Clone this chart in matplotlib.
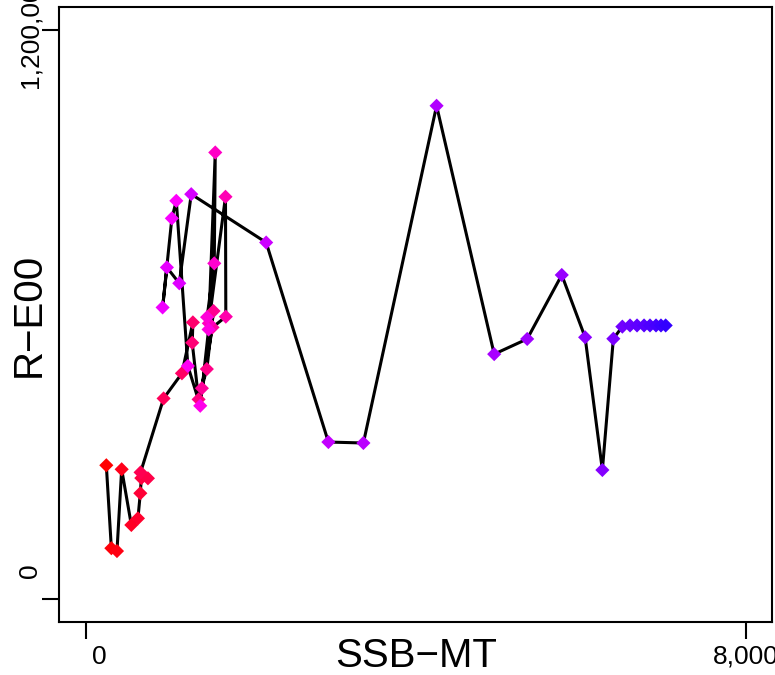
import numpy as np
import matplotlib
matplotlib.use("Agg")
import matplotlib.pyplot as plt
from matplotlib.colors import hsv_to_rgb
from matplotlib.transforms import ScaledTranslation


# Data: spawning stock biomass (MT) and recruits, in time order
ssb = [250, 311, 379, 436, 553, 633, 662, 674, 754, 665,
       944, 1166, 1299, 1291, 1368, 1468, 1549, 1408, 1537, 1698,
       1694, 1492, 1570, 1558, 1471, 1489, 1388, 1238, 1098, 1044,
       932, 984, 1134, 1279, 2187, 2941, 3365, 4252, 4950, 5350,
       5769, 6052, 6261, 6394, 6503, 6596, 6681, 6766, 6838, 6911,
       6971, 7028]
rec = [282000, 107000, 101000, 273500, 156000, 170000, 223000, 255000, 254500, 267000,
       423000, 476000, 583500, 540500, 421000, 485000, 607500, 444500, 573000, 595500,
       848500, 581500, 942000, 708000, 594500, 568500, 407500, 491500, 840000, 803000,
       615000, 699500, 666000, 854000, 752000, 331000, 329000, 1040500, 516500, 548500,
       683500, 552000, 272000, 549000, 574500, 577000, 577000, 577000, 577000, 577000,
       577000, 577000]

x_ticks = [0, 8000]
y_ticks = [0, 1200000]
x_name = "SSB\u2212MT"
y_name = "R\u2212E00"

plt.rcParams['font.family'] = ['Liberation Sans', 'DejaVu Sans']

# red -> magenta -> blue along the series
n = len(ssb)
hue = (1 - 0.3 * np.linspace(0, 1, n)) % 1
colors = hsv_to_rgb(np.column_stack([hue, np.ones(n), np.ones(n)]))

fig = plt.figure(figsize=(7.75, 6.75), dpi=100)
ax = fig.add_axes([0.0765, 0.079, 0.920, 0.910])

ax.plot(ssb, rec, color="black", lw=2.2, zorder=1)
ax.scatter(ssb, rec, c=colors, marker="D", s=52, linewidths=0, zorder=2)

ax.set_xlim(-320, 8320)
ax.set_ylim(-48000, 1248000)

for s in ax.spines.values():
    s.set_linewidth(1.5)

ax.set_xticks(x_ticks)
ax.set_yticks(y_ticks)
ax.tick_params(direction="out", length=12, width=1.5, labelbottom=False, labelleft=False)


def px(dx, dy):
    return ScaledTranslation(dx / 100, dy / 100, fig.dpi_scale_trans)


# tick labels (the zero labels sit off their ticks, as in the original)
x_shift = [14, 0]
for v, sh in zip(x_ticks, x_shift):
    ax.text(v, 0, "{:,}".format(v), fontsize=19, ha="center", va="baseline",
            transform=ax.get_xaxis_transform() + px(sh, -42))

y_shift = [28, 1]
for v, sh in zip(y_ticks, y_shift):
    ax.text(0, v, "{:,}".format(v), fontsize=19, ha="center", va="baseline",
            rotation=90, rotation_mode="anchor",
            transform=ax.get_yaxis_transform() + px(-22, sh))

fig.text(0.537, 0.012, x_name, fontsize=29, ha="center", va="baseline")
fig.text(0.0516, 0.533, y_name, fontsize=29, ha="center", va="baseline",
         rotation=90, rotation_mode="anchor")

fig.savefig("out.png", dpi=100)
